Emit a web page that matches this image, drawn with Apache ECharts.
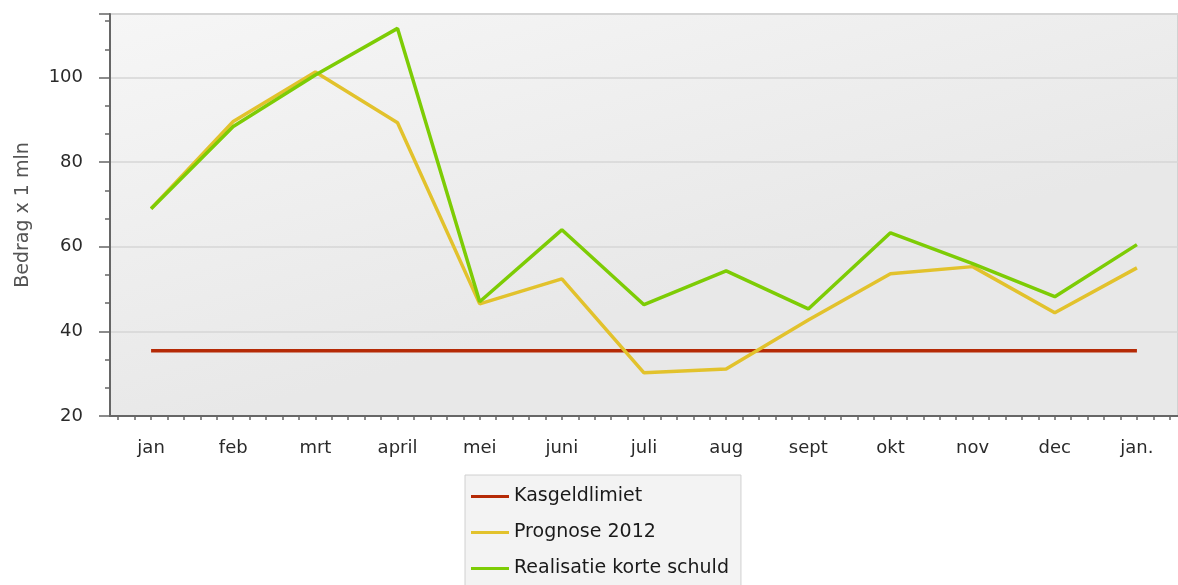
<!DOCTYPE html>
<html><head><meta charset="utf-8">
<script src="https://cdn.jsdelivr.net/npm/echarts@6/dist/echarts.min.js"></script>
<style>html,body{margin:0;padding:0;background:#fff;}#c{width:1178px;height:585px;}</style>
</head><body><div id="c"></div>
<script>
var categories = ['jan','feb','mrt','april','mei','juni','juli','aug','sept','okt','nov','dec','jan.'];
var kasgeldlimiet = [35.4,35.4,35.4,35.4,35.4,35.4,35.4,35.4,35.4,35.4,35.4,35.4,35.4];
var prognose2012 = [69.0,89.6,101.3,89.3,46.5,52.4,30.2,31.1,42.7,53.6,55.3,44.4,55.0];
var realisatie = [69.0,88.4,100.6,111.6,47.0,64.0,46.3,54.3,45.3,63.3,56.0,48.2,60.5];
var seriesNames = ['Kasgeldlimiet','Prognose 2012','Realisatie korte schuld'];

var sub = [];
for (var i = 0; i < categories.length * 5; i++) sub.push('');

var chart = echarts.init(document.getElementById('c'), null, {renderer:'canvas'});
var font = 'Tahoma, "DejaVu Sans", sans-serif';
chart.setOption({
  animation:false,
  backgroundColor:'#fff',
  grid:{left:110, top:14, width:1078, height:402, show:true,
    backgroundColor:{type:'linear',x:0,y:0,x2:0.1,y2:1,colorStops:[{offset:0,color:'#f6f6f6'},{offset:1,color:'#e8e8e8'}]},
    borderColor:'#d2d2d2', borderWidth:2},
  legend:{orient:'vertical', left:465, top:475, height:200, data:seriesNames,
    backgroundColor:'#f3f3f3', borderColor:'#d0d0d0', borderWidth:1,
    padding:[12,12,30,6], itemGap:17, itemWidth:38, itemHeight:3, icon:'rect',
    textStyle:{fontFamily:font, fontSize:19, color:'#1a1a1a'}},
  xAxis:[{
    type:'category', data:categories, boundaryGap:true,
    axisLine:{lineStyle:{color:'#666', width:2}},
    axisTick:{alignWithLabel:true, length:10, lineStyle:{color:'#666', width:1.5}},
    axisLabel:{fontFamily:font, fontSize:18, color:'#2a2a2a', margin:23},
    splitLine:{show:false}
  },{
    type:'category', data:sub, boundaryGap:true, position:'bottom', gridIndex:0,
    axisLine:{show:true, lineStyle:{color:'rgba(0,0,0,0)', width:0}},
    axisTick:{show:true, alignWithLabel:true, interval:0, length:4, lineStyle:{color:'#666', width:1.5}},
    axisLabel:{show:true, interval:0, color:'rgba(0,0,0,0)', fontSize:1}, splitLine:{show:false}
  }],
  yAxis:{
    type:'value', min:20, max:115, interval:20,
    name:'Bedrag x 1 mln', nameLocation:'middle', nameGap:77, nameRotate:90,
    nameTextStyle:{fontFamily:font, fontSize:19, color:'#555'},
    axisLine:{show:true, lineStyle:{color:'#666', width:2}},
    axisTick:{show:true, length:11, lineStyle:{color:'#666', width:1.5}},
    minorTick:{show:true, splitNumber:3, length:5, lineStyle:{color:'#666', width:1.5}},
    axisLabel:{fontFamily:font, fontSize:18, color:'#2a2a2a', margin:27, showMaxLabel:false},
    splitLine:{lineStyle:{color:'#d6d6d6', width:1.5}}
  },
  series:[
    {name:seriesNames[0], type:'line', data:kasgeldlimiet, symbol:'none', color:'#b52a06', lineStyle:{width:3.5}},
    {name:seriesNames[1], type:'line', data:prognose2012, symbol:'none', color:'#e2c22c', lineStyle:{width:3.5}},
    {name:seriesNames[2], type:'line', data:realisatie, symbol:'none', color:'#7dcc05', lineStyle:{width:3.5}}
  ]
});
</script></body></html>
